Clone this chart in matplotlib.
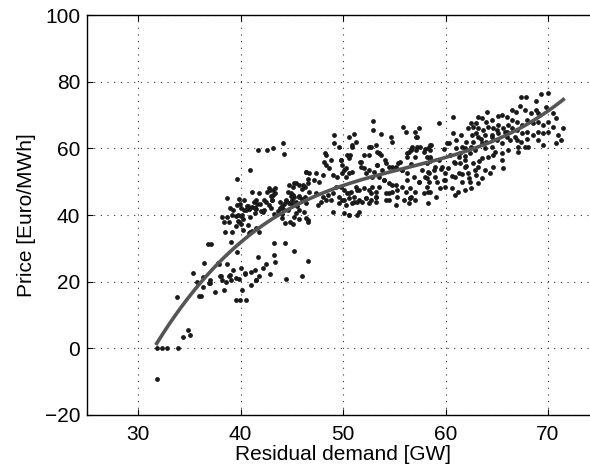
import numpy as np
import matplotlib
matplotlib.use("Agg")
import matplotlib.pyplot as plt

# ---- data (residual demand [GW], price [Euro/MWh]) ----
# low-demand tail
demand_low = [31.8, 32.3, 32.8, 33.9, 31.8, 34.4, 34.9, 35.1, 33.8, 35.3, 35.7, 35.9,
              36.1, 36.3, 36.4, 36.3, 36.8, 37.1, 36.9, 37.0, 37.5, 37.9, 38.1, 38.2,
              38.4, 38.7, 38.6, 38.9, 39.1, 39.3, 39.1, 39.6, 39.5, 39.9, 39.8, 40.0,
              40.1, 40.4, 40.5, 41.0, 41.4, 41.5, 41.7, 41.8, 42.2, 42.5, 42.9, 43.3,
              43.3, 43.4, 44.3, 44.4, 45.2, 46.6, 46.0, 37.0, 37.8, 38.0, 39.0, 39.5,
              40.4, 41.0, 41.5]
price_low = [0, 0, 0, 0, -9.3, 3.3, 5.4, 3.9, 15.3, 22.5, 20.0, 15.6,
             15.8, 18.3, 25.5, 21.5, 31.2, 31.4, 19.5, 20.6, 16.8, 25.2, 21.6, 20.6,
             17.4, 25.2, 20.0, 21.8, 31.8, 23.4, 20.6, 28.8, 14.4, 14.4, 20.8, 24.0,
             17.4, 22.6, 14.4, 19.0, 23.4, 20.6, 27.3, 21.8, 24.0, 25.2, 22.2, 31.5,
             28.0, 26.0, 31.5, 20.7, 29.1, 26.1, 21.6, 19.5, 25.5, 21.6, 22.0, 21.0,
             22.2, 23.0, 20.4]

# steep part / left cluster
demand_left = [38.2, 38.4, 38.7, 38.5, 38.9, 39.2, 39.2, 39.7, 39.8, 39.6, 39.9, 40.3,
               40.0, 41.4, 41.6, 40.9, 40.8, 41.1, 39.0, 39.3, 38.7, 39.6, 40.9, 41.7,
               42.6, 43.2, 44.1, 44.2, 40.3, 40.6, 40.8, 40.5, 41.1, 40.1, 41.4, 41.9,
               42.3, 42.6, 42.8, 43.0, 43.1, 43.2, 43.4, 43.8, 44.0, 44.2, 44.4, 44.7,
               44.9, 45.0, 45.1, 46.4, 45.2, 45.7, 46.0, 46.3, 46.6, 44.6, 44.9, 45.2,
               45.7, 46.0, 46.3, 44.4, 44.7, 45.0, 45.5, 44.1, 44.6, 43.8, 44.0, 43.6,
               43.1, 42.8, 43.0, 43.3, 42.9, 43.2, 43.4, 42.5, 42.3, 41.8, 41.5, 41.4,
               41.5, 41.3, 41.1, 40.7, 40.8, 42.0, 42.2, 39.8, 39.5, 39.7, 40.0, 40.2,
               40.0, 39.5, 40.9, 40.7, 40.2, 44.0, 44.3, 44.8, 45.2, 45.7, 46.6, 41.5,
               41.8]
price_left = [39.5, 37.8, 39.5, 35.0, 37.8, 34.8, 39.9, 40.0, 38.0, 43.0, 43.3, 41.4,
              42.2, 40.5, 43.3, 34.8, 34.7, 35.2, 42.2, 41.5, 45.0, 50.7, 53.5, 59.4,
              59.4, 60.0, 61.6, 58.3, 44.4, 42.8, 41.8, 41.6, 46.8, 40.0, 42.2, 43.3,
              44.4, 46.8, 48.1, 45.8, 44.4, 46.0, 48.0, 42.0, 40.4, 43.4, 44.4, 49.0,
              46.5, 44.6, 46.0, 52.9, 49.5, 48.9, 47.9, 48.4, 50.8, 46.8, 45.8, 45.3,
              45.8, 44.8, 45.3, 44.2, 43.7, 43.2, 42.7, 41.9, 41.4, 43.8, 42.8, 41.2,
              44.4, 42.9, 42.2, 40.2, 47.5, 47.5, 46.5, 44.0, 41.5, 46.5, 44.5, 42.0,
              41.9, 44.0, 42.5, 42.7, 41.7, 41.3, 40.8, 44.8, 39.7, 38.2, 39.7, 38.7,
              37.2, 36.7, 39.4, 36.9, 35.5, 39.2, 37.7, 37.9, 39.4, 38.9, 38.6, 36.0,
              35.0]

# plateau 45-59 GW
demand_mid = [52.95, 52.95, 53.66, 54.63, 54.73, 55.83, 56.18, 57.06, 57.38, 57.12, 57.54, 57.87,
              58.51, 58.19, 57.70, 58.51, 56.73, 56.41, 56.25, 57.06, 55.60, 55.12, 55.76, 56.25,
              56.90, 57.38, 56.57, 57.06, 56.25, 56.51, 58.35, 58.84, 59.00, 54.47, 54.15, 53.82,
              53.50, 53.98, 54.47, 55.12, 55.76, 54.79, 54.15, 55.28, 54.47, 53.50, 53.34, 53.01,
              52.53, 53.17, 53.34, 53.66, 51.07, 50.59, 51.23, 50.91, 50.42, 50.59, 49.13, 49.61,
              48.32, 48.16, 48.32, 48.81, 49.78, 49.94, 50.26, 50.59, 49.94, 49.45, 48.97, 48.64,
              51.72, 52.04, 51.72, 52.53, 52.20, 52.85, 48.00, 47.35, 46.70, 46.38, 47.19, 47.67,
              46.54, 46.05, 45.41, 45.08, 46.70, 47.35, 48.00, 48.48, 48.97, 49.29, 49.78, 50.10,
              50.42, 50.75, 51.23, 51.56, 52.04, 52.53, 52.85, 53.17, 49.61, 50.10, 50.59, 51.07,
              51.56, 52.20, 52.69, 53.17, 49.61, 50.26, 50.91, 51.39, 51.88, 52.53, 53.17, 47.83,
              48.32, 48.81, 47.51, 46.05, 45.73, 45.41, 46.38, 45.73, 46.22, 45.41, 48.97, 50.10,
              50.59, 51.39, 46.38, 46.54, 45.08, 54.15, 55.12, 55.93, 56.57, 58.35, 48.26, 49.13]
price_mid = [68.2, 65.5, 64.2, 63.5, 62.0, 66.5, 65.0, 65.0, 66.0, 63.5, 60.5, 59.0,
             57.5, 55.5, 53.5, 47.0, 60.5, 59.0, 57.5, 57.5, 56.0, 54.5, 53.5, 52.5,
             51.5, 50.0, 48.0, 47.0, 50.5, 45.0, 52.5, 53.5, 51.5, 54.5, 55.5, 53.5,
             51.5, 50.5, 49.5, 49.0, 48.5, 47.0, 46.5, 45.5, 44.5, 58.5, 55.0, 53.0,
             60.5, 61.0, 59.0, 58.0, 64.2, 63.5, 62.0, 60.5, 58.0, 57.0, 61.5, 60.5,
             58.0, 56.0, 55.0, 56.5, 56.5, 55.0, 54.0, 52.5, 52.5, 51.5, 52.0, 54.0,
             56.0, 58.0, 54.5, 53.5, 52.5, 51.5, 52.0, 52.5, 52.5, 53.0, 50.5, 50.0,
             49.5, 49.0, 49.5, 48.5, 47.0, 46.5, 45.5, 46.0, 46.5, 48.5, 48.5, 47.5,
             46.5, 47.0, 48.5, 47.5, 48.0, 47.5, 48.5, 47.0, 45.5, 44.5, 45.0, 45.5,
             44.5, 45.0, 44.5, 45.5, 43.5, 43.0, 43.5, 44.0, 44.0, 43.5, 44.0, 44.0,
             44.5, 44.5, 43.0, 44.5, 45.5, 44.0, 43.5, 41.5, 41.0, 40.5, 41.0, 40.5,
             40.0, 40.0, 39.0, 38.0, 37.3, 44.5, 43.0, 44.5, 45.2, 50.0, 58.5, 64.0]

# extra plateau points (second reading pass)
demand_mid2 = [50.9, 52.7, 53.5, 52.5, 50.7, 49.8, 50.1, 50.9, 50.3, 51.7, 52.0, 53.3,
               54.1, 54.8, 55.4, 55.8, 56.2, 56.6, 57.2, 58.3, 58.5, 58.2, 57.4, 58.3,
               56.6, 54.8, 54.5, 53.5, 52.7, 51.4, 50.6, 49.9, 51.1, 52.2, 53.2, 51.6,
               50.6, 54.0, 55.3]
price_mid2 = [61.0, 60.5, 58.5, 58.0, 58.0, 56.5, 53.5, 53.0, 51.5, 56.0, 54.0, 55.0,
              56.5, 54.5, 55.5, 53.5, 58.5, 59.5, 60.5, 60.0, 57.0, 51.0, 50.0, 47.0,
              45.5, 49.0, 46.5, 48.5, 46.5, 47.5, 46.5, 44.5, 44.0, 45.0, 45.5, 41.0,
              40.0, 50.5, 47.5]

# high-demand part
demand_high = [67.41, 67.90, 69.36, 70.00, 68.87, 67.25, 66.54, 66.93, 67.74, 68.87, 69.84, 70.49,
               70.81, 71.46, 70.81, 71.23, 69.52, 68.06, 67.41, 67.03, 65.12, 64.02, 63.20, 63.60,
               62.24, 62.72, 63.20, 63.69, 64.18, 64.66, 65.15, 65.63, 66.12, 62.56, 63.20, 63.85,
               64.50, 65.15, 65.80, 62.72, 63.53, 64.50, 65.47, 66.28, 66.77, 61.59, 61.91, 62.40,
               62.88, 63.85, 64.82, 65.47, 66.12, 67.09, 67.74, 60.78, 59.39, 60.78, 60.13, 59.81,
               60.46, 61.43, 61.91, 62.72, 63.20, 63.85, 64.34, 65.47, 65.63, 64.66, 63.53, 62.40,
               61.59, 61.27, 59.97, 59.97, 59.16, 59.97, 60.94, 62.24, 62.88, 61.91, 60.94, 61.27,
               59.32, 59.65, 59.00, 60.29, 58.51]
price_high = [75.5, 75.3, 76.2, 76.7, 74.2, 72.7, 71.5, 71.0, 71.5, 71.5, 72.5, 70.5,
              69.0, 66.0, 61.7, 62.5, 61.0, 60.5, 62.0, 60.5, 69.8, 71.0, 69.3, 69.0,
              66.0, 66.5, 66.0, 65.5, 66.5, 66.0, 67.0, 66.0, 67.0, 64.0, 63.5, 64.0,
              63.5, 64.5, 65.0, 62.0, 61.5, 60.5, 61.5, 62.5, 63.5, 60.5, 60.0, 58.5,
              59.5, 60.0, 59.0, 58.5, 59.5, 59.0, 60.5, 69.5, 67.5, 64.5, 61.5, 59.7,
              58.0, 58.5, 56.5, 55.5, 54.5, 53.5, 52.5, 56.5, 54.0, 54.5, 51.0, 50.0,
              50.0, 52.5, 52.5, 50.5, 50.0, 48.5, 51.5, 52.5, 53.5, 54.5, 55.5, 57.5,
              56.5, 54.5, 54.5, 54.0, 61.0]

# dense upper-right cluster
demand_top = [66.5, 67.0, 67.5, 68.0, 68.5, 69.0, 69.5, 70.0, 66.0, 66.5, 67.0, 67.5,
              68.0, 68.5, 69.0, 69.5, 70.0, 64.0, 64.5, 65.0, 63.0, 62.5, 66.0, 67.0,
              68.0, 69.0, 63.5, 64.0, 65.0, 62.0, 62.5, 61.0, 61.5, 68.3, 69.0, 70.5,
              71.0, 65.5, 66.0, 64.5, 63.0]
price_top = [68.5, 68.0, 67.0, 68.5, 67.5, 68.0, 67.0, 68.0, 65.0, 66.0, 65.5, 64.5,
             65.0, 64.0, 65.0, 64.5, 65.0, 68.0, 68.5, 65.5, 67.5, 67.5, 63.5, 62.5,
             62.8, 62.5, 62.8, 62.0, 62.5, 62.0, 60.5, 62.5, 64.0, 70.5, 70.5, 66.5,
             64.0, 70.0, 69.5, 64.0, 64.5]

# 58-65 GW band
demand_band = [59.6, 60.3, 61.0, 61.9, 60.8, 61.4, 62.0, 63.3, 63.6, 64.1, 64.6, 59.9,
               60.6, 61.6, 62.3, 63.0, 60.6, 61.2, 61.9, 62.5, 63.2, 60.9, 59.5, 59.1,
               56.1, 57.9, 58.2, 56.4, 58.3, 57.0, 57.2, 58.6, 56.6, 57.1, 58.0, 58.5,
               56.6, 58.2, 58.5, 58.3, 58.0]
price_band = [53.8, 61.5, 60.2, 57.8, 56.0, 55.5, 54.8, 56.1, 57.0, 57.5, 58.0, 50.6,
              51.6, 52.2, 51.0, 52.0, 48.0, 47.0, 47.4, 48.0, 49.7, 46.0, 48.0, 45.4,
              46.9, 46.6, 48.5, 43.6, 43.5, 44.5, 63.4, 61.0, 59.8, 59.5, 59.8, 59.5,
              55.4, 57.4, 56.3, 53.0, 51.5]

# fitted curve
fit_demand = [31.8, 36.8, 40.2, 44.8, 48.0, 51.2, 54.5, 57.7, 61.0, 64.2, 67.4, 71.5]
fit_price = [2.7, 19.5, 32.0, 43.5, 48.0, 50.5, 52.3, 54.0, 57.3, 62.0, 67.5, 74.2]

demand = np.concatenate([demand_low, demand_left, demand_mid, demand_mid2,
                         demand_high, demand_top, demand_band])
price = np.concatenate([price_low, price_left, price_mid, price_mid2,
                        price_high, price_top, price_band])

# cubic through the read curve points
coef = np.polyfit(fit_demand, fit_price, 3)
xf = np.linspace(fit_demand[0], fit_demand[-1], 200)
yf = np.polyval(coef, xf)

plt.rcParams["font.family"] = ["Liberation Sans", "DejaVu Sans"]
fig = plt.figure(figsize=(5.9, 4.71), dpi=100)
ax = fig.add_axes([0.1475, 0.119, 0.868, 0.849])

ax.scatter(demand, price, s=12, color="#1a1a1a", linewidths=0, zorder=3)
ax.plot(xf, yf, color="#555555", lw=2.6, zorder=4)

ax.set_xlim(25, 75)
ax.set_ylim(-20, 100)
ax.set_xticks([30, 40, 50, 60, 70])
ax.set_yticks([-20, 0, 20, 40, 60, 80, 100])
ax.set_yticklabels(["\u221220", "0", "20", "40", "60", "80", "100"])
ax.grid(True, color="#333333", linestyle=(0, (1, 5)), linewidth=0.8)
ax.tick_params(direction="in", top=True, right=True, labelsize=15, length=4)
ax.tick_params(axis="x", pad=7)
ax.tick_params(axis="y", pad=5)
for sp in ax.spines.values():
    sp.set_linewidth(1.0)

ax.set_xlabel("Residual demand [GW]", fontsize=15, labelpad=1)
ax.set_ylabel("Price [Euro/MWh]", fontsize=15, labelpad=6)

fig.savefig("out.png", dpi=100)
